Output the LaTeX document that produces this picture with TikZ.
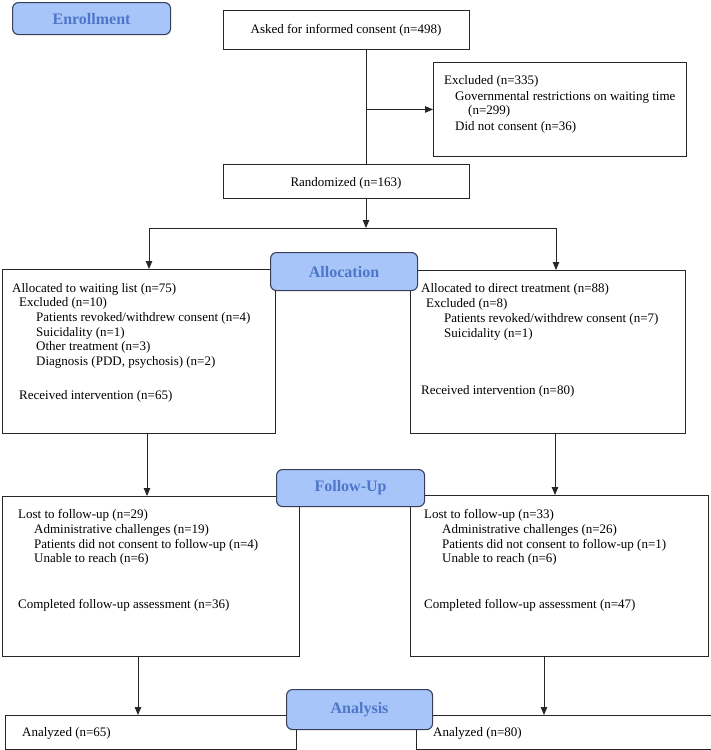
\documentclass[tikz,border=0pt]{standalone}
\usepackage{fontspec}
\setmainfont{Liberation Serif}
\usetikzlibrary{arrows.meta}
\definecolor{lblfill}{RGB}{168,197,250}
\definecolor{lbldraw}{RGB}{55,62,90}
\definecolor{lbltext}{RGB}{78,118,200}
\tikzset{
  box/.style={draw=black!85, line width=0.9pt, fill=white, inner sep=0pt, anchor=north west},
  lbl/.style={draw=lbldraw, fill=lblfill, rounded corners=6pt, line width=1.1pt, inner sep=0pt, anchor=north west, text=lbltext, font=\bfseries\fontsize{16}{18}\selectfont},
  txt/.style={anchor=base west, inner sep=0pt, font=\fontsize{13}{15}\selectfont},
  ctxt/.style={anchor=base, inner sep=0pt, font=\fontsize{13}{15}\selectfont},
  arr/.style={line width=0.9pt, draw=black!85, -{Triangle[length=8pt,width=6.5pt]}},
  ln/.style={line width=0.9pt, draw=black!85}
}
\begin{document}
\begin{tikzpicture}[x=1pt,y=-1pt]
\useasboundingbox (0,0) rectangle (710,750);
% boxes
\node[box, minimum width=246pt, minimum height=39pt] (asked) at (223,10) {};
\node[box, minimum width=253pt, minimum height=94pt] (excl) at (433,62) {};
\node[box, minimum width=246pt, minimum height=34pt] (rand) at (223,164) {};
\node[box, minimum width=273pt, minimum height=164pt] (allocL) at (2,269) {};
\node[box, minimum width=275pt, minimum height=163pt] (allocR) at (410,270) {};
\node[box, minimum width=297pt, minimum height=160pt] (folL) at (2,496) {};
\node[box, minimum width=298pt, minimum height=161pt] (folR) at (410,495) {};
\node[box, minimum width=291pt, minimum height=34pt] (anaL) at (5,715) {};
\node[box, minimum width=295pt, minimum height=34pt] (anaR) at (416,715) {};
% coordinates
\coordinate (c1) at (366,0);
\coordinate (split) at (366,228);
\coordinate (splitL) at (149,228);
\coordinate (splitR) at (556,228);
\coordinate (cL1) at (147,0);
\coordinate (cR1) at (555,0);
\coordinate (cL2) at (138,0);
\coordinate (cR2) at (544,0);
% connectors
\draw[ln] (asked.south -| c1) -- (rand.north -| c1);
\draw[arr] (c1 |- excl.west) -- (excl.west);
\draw[arr] (rand.south -| c1) -- (split);
\draw[ln] (splitL) -- (splitR);
\draw[arr] (splitL) -- (allocL.north -| splitL);
\draw[arr] (splitR) -- (allocR.north -| splitR);
\draw[arr] (allocL.south -| cL1) -- (folL.north -| cL1);
\draw[arr] (allocR.south -| cR1) -- (folR.north -| cR1);
\draw[arr] (folL.south -| cL2) -- (anaL.north -| cL2);
\draw[arr] (folR.south -| cR2) -- (anaR.north -| cR2);
% labels
\node[lbl, minimum width=158pt, minimum height=32pt] (enr) at (12,2) {Enrollment};
\node[lbl, minimum width=147pt, minimum height=38pt] (alloc) at (270,252) {Allocation};
\node[lbl, minimum width=148pt, minimum height=37pt] (fol) at (276,469) {Follow-Up};
\node[lbl, minimum width=146pt, minimum height=40pt] (ana) at (286,689) {Analysis};
% texts
\node[ctxt] (t1) at (346,33) {Asked for informed consent (n=498)};
\node[txt] (t2) at (444,84) {Excluded (n=335)};
\node[txt] (t3) at (455,100) {Governmental restrictions on waiting time};
\node[txt] (t4) at (468,114) {(n=299)};
\node[txt] (t5) at (455,130) {Did not consent (n=36)};
\node[ctxt] (t6) at (346,186) {Randomized (n=163)};
% alloc left
\node[txt] (a1) at (12,292) {Allocated to waiting list (n=75)};
\node[txt] (a2) at (19,306.7) {Excluded (n=10)};
\node[txt] (a3) at (36,321.3) {Patients revoked/withdrew consent (n=4)};
\node[txt] (a4) at (36,336) {Suicidality (n=1)};
\node[txt] (a5) at (36,350.6) {Other treatment (n=3)};
\node[txt] (a6) at (36,365.3) {Diagnosis (PDD, psychosis) (n=2)};
\node[txt] (a7) at (19,399) {Received intervention (n=65)};
% alloc right
\node[txt] (b1) at (421,292) {Allocated to direct treatment (n=88)};
\node[txt] (b2) at (426,307) {Excluded (n=8)};
\node[txt] (b3) at (444,322) {Patients revoked/withdrew consent (n=7)};
\node[txt] (b4) at (444,337) {Suicidality (n=1)};
\node[txt] (b5) at (421,394) {Received intervention (n=80)};
% follow left
\node[txt] (f1) at (18,518) {Lost to follow-up (n=29)};
\node[txt] (f2) at (34,533) {Administrative challenges (n=19)};
\node[txt] (f3) at (34,548) {Patients did not consent to follow-up (n=4)};
\node[txt] (f4) at (34,562.5) {Unable to reach (n=6)};
\node[txt] (f5) at (18,608) {Completed follow-up assessment (n=36)};
% follow right
\node[txt] (g1) at (424,518) {Lost to follow-up (n=33)};
\node[txt] (g2) at (442,533) {Administrative challenges (n=26)};
\node[txt] (g3) at (442,548) {Patients did not consent to follow-up (n=1)};
\node[txt] (g4) at (442,562.5) {Unable to reach (n=6)};
\node[txt] (g5) at (424,608) {Completed follow-up assessment (n=47)};
% analysis
\node[txt] (h1) at (22,736) {Analyzed (n=65)};
\node[txt] (h2) at (433,736) {Analyzed (n=80)};
\end{tikzpicture}
\end{document}
